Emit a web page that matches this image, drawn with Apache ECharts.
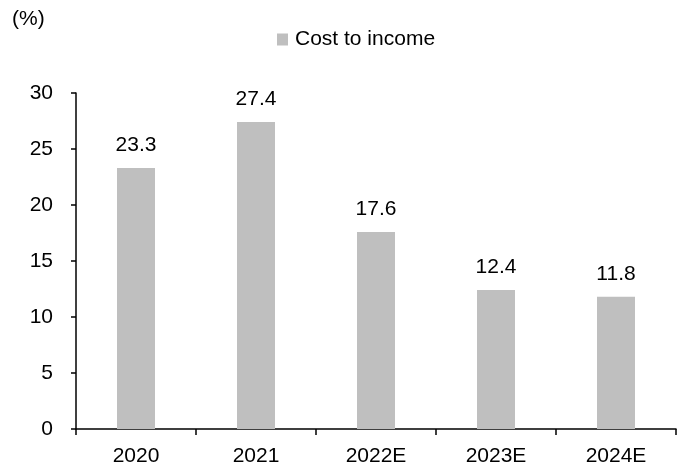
<!DOCTYPE html>
<html>
<head>
<meta charset="utf-8">
<script src="https://cdn.jsdelivr.net/npm/echarts@6/dist/echarts.min.js"></script>
<style>
  html, body { margin: 0; padding: 0; background: #fff; }
  #chart { width: 683px; height: 470px; }
</style>
</head>
<body>
<div id="chart"></div>
<script>
// Cost-to-income ratio by year (%), actual and estimated
const categories = ['2020', '2021', '2022E', '2023E', '2024E'];
const costToIncome = [23.3, 27.4, 17.6, 12.4, 11.8];
const seriesName = 'Cost to income';
const unitLabel = '(%)';

const FONT = '"Liberation Sans", Arial, sans-serif';
const chart = echarts.init(document.getElementById('chart'), null, { renderer: 'canvas' });

chart.setOption({
  animation: false,
  backgroundColor: '#ffffff',
  textStyle: { fontFamily: FONT, color: '#000' },
  graphic: [{
    type: 'text',
    left: 12,
    top: 9,
    style: { text: unitLabel, font: '21px ' + FONT, fill: '#000' }
  }],
  legend: {
    data: [{ name: seriesName, icon: 'rect' }],
    left: 272,
    top: 24,
    itemWidth: 11,
    itemHeight: 12,
    textStyle: { fontSize: 21, color: '#000', fontFamily: FONT, padding: [0, 0, 0, 2] }
  },
  grid: { left: 76, right: 7, top: 93, bottom: 41, containLabel: false },
  xAxis: {
    type: 'category',
    data: categories,
    axisLine: { lineStyle: { color: '#000', width: 1.5 } },
    axisTick: { show: true, length: 6, lineStyle: { color: '#000', width: 1.5 } },
    axisLabel: { fontSize: 21, color: '#000', fontFamily: FONT, margin: 17 },
    splitLine: { show: false }
  },
  yAxis: {
    type: 'value',
    min: 0,
    max: 30,
    interval: 5,
    axisLine: { show: true, lineStyle: { color: '#000', width: 1.5 } },
    axisTick: { show: true, length: 5, lineStyle: { color: '#000', width: 1.5 } },
    axisLabel: { fontSize: 21, color: '#000', fontFamily: FONT, margin: 23 },
    splitLine: { show: false }
  },
  series: [{
    name: seriesName,
    type: 'bar',
    data: costToIncome,
    barWidth: 38,
    itemStyle: { color: '#bfbfbf' },
    label: {
      show: true,
      position: 'top',
      distance: 12,
      fontSize: 21,
      color: '#000',
      fontFamily: FONT
    }
  }]
});
</script>
</body>
</html>
